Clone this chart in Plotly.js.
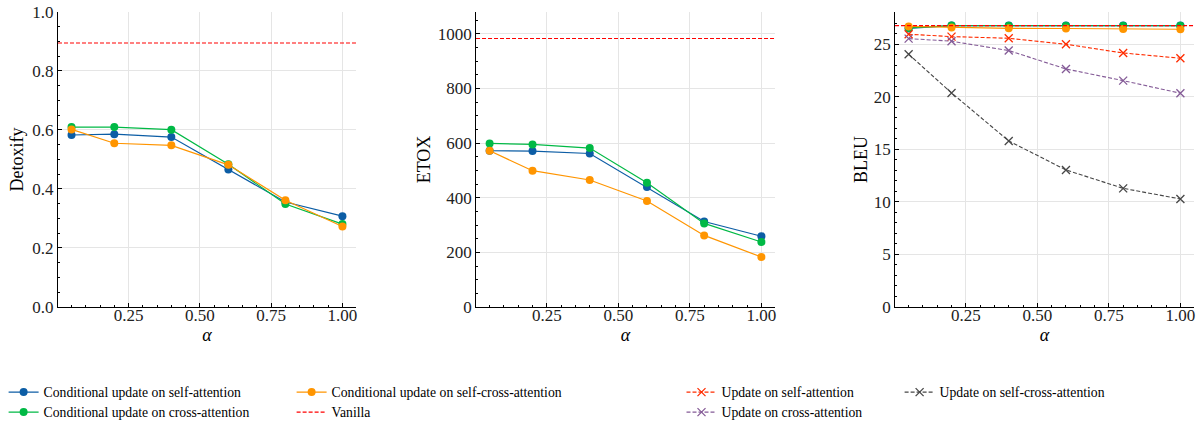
<!DOCTYPE html>
<html>
<head>
<meta charset="utf-8">
<script src="https://cdn.plot.ly/plotly-3.0.1.min.js"></script>
<style>html,body{margin:0;padding:0;background:#fff}#chart{width:1203px;height:421px}</style>
</head>
<body>
<div id="chart"></div>
<script>
// ---- data ----
const alpha = [0.05, 0.2, 0.4, 0.6, 0.8, 1.0];

const detoxCondSelf      = [0.583, 0.586, 0.576, 0.466, 0.356, 0.308];
const detoxCondCross     = [0.610, 0.610, 0.601, 0.484, 0.349, 0.281];
const detoxCondSelfCross = [0.602, 0.555, 0.548, 0.482, 0.362, 0.273];
const detoxVanilla = 0.895;

const etoxCondSelf      = [572, 571, 562, 439, 313, 259];
const etoxCondCross     = [599, 595, 582, 455, 306, 238];
const etoxCondSelfCross = [572, 499, 465, 388, 262, 183];
const etoxVanilla = 983;

const bleuCondSelf      = [26.50, 26.78, 26.78, 26.78, 26.78, 26.78];
const bleuCondCross     = [26.55, 26.78, 26.77, 26.76, 26.76, 26.76];
const bleuCondSelfCross = [26.70, 26.60, 26.52, 26.50, 26.46, 26.43];
const bleuUpdSelf       = [25.95, 25.73, 25.57, 25.00, 24.17, 23.67];
const bleuUpdCross      = [25.54, 25.29, 24.40, 22.65, 21.54, 20.34];
const bleuUpdSelfCross  = [24.05, 20.37, 15.80, 13.04, 11.29, 10.28];
const bleuVanilla = 26.77;

const xTickVals = [0.25, 0.5, 0.75, 1.0];
const xTickText = ["0.25", "0.50", "0.75", "1.00"];

const names = {
  condSelf: "Conditional update on self-attention",
  condCross: "Conditional update on cross-attention",
  condSelfCross: "Conditional update on self-cross-attention",
  vanilla: "Vanilla",
  updSelf: "Update on self-attention",
  updCross: "Update on cross-attention",
  updSelfCross: "Update on self-cross-attention"
};

// ---- styles ----
const C = {blue:"#0C5DA5", green:"#00B945", orange:"#FF9500", red:"#FF2C00", purple:"#845B97", dark:"#474747", vanilla:"#FF0000"};
const FONT = "Liberation Serif, Times New Roman, serif";

function cond(y, color, xa, ya, name, legend, show) {
  return {x: alpha, y: y, xaxis: xa, yaxis: ya, type: "scatter", mode: "lines+markers",
    name: name, legend: legend, showlegend: show,
    line: {color: color, width: 1.2}, marker: {color: color, size: 8, symbol: "circle"}};
}
function upd(y, color, xa, ya, name, legend) {
  return {x: alpha, y: y, xaxis: xa, yaxis: ya, type: "scatter", mode: "lines+markers",
    name: name, legend: legend, showlegend: true,
    line: {color: color, width: 1.1, dash: "4px,2px"},
    marker: {color: color, size: 8, symbol: "x-thin", line: {color: color, width: 1.3}}};
}

const traces = [
  cond(detoxCondSelf, C.blue, "x", "y", names.condSelf, "legend", true),
  cond(detoxCondCross, C.green, "x", "y", names.condCross, "legend2", true),
  cond(detoxCondSelfCross, C.orange, "x", "y", names.condSelfCross, "legend3", true),
  cond(etoxCondSelf, C.blue, "x2", "y2", names.condSelf, "legend", false),
  cond(etoxCondCross, C.green, "x2", "y2", names.condCross, "legend2", false),
  cond(etoxCondSelfCross, C.orange, "x2", "y2", names.condSelfCross, "legend3", false),
  cond(bleuCondSelf, C.blue, "x3", "y3", names.condSelf, "legend", false),
  cond(bleuCondCross, C.green, "x3", "y3", names.condCross, "legend2", false),
  cond(bleuCondSelfCross, C.orange, "x3", "y3", names.condSelfCross, "legend3", false),
  {x: [null], y: [null], type: "scatter", mode: "lines", name: names.vanilla, legend: "legend4",
    line: {color: C.vanilla, width: 1.1, dash: "4px,2px"}, showlegend: true, hoverinfo: "skip"},
  upd(bleuUpdSelf, C.red, "x3", "y3", names.updSelf, "legend5"),
  upd(bleuUpdCross, C.purple, "x3", "y3", names.updCross, "legend6"),
  upd(bleuUpdSelfCross, C.dark, "x3", "y3", names.updSelfCross, "legend7")
];

function hline(yval, xref, yref) {
  return {type: "line", xref: xref + " domain", yref: yref, x0: 0, x1: 1, y0: yval, y1: yval,
    line: {color: C.vanilla, width: 1.1, dash: "4px,2px"}, layer: "above"};
}

const tickFont = {family: FONT, size: 17, color: "#222"};
function xax(domain, anchor) {
  return {domain: domain, anchor: anchor, range: [0.0025, 1.0475], tickvals: xTickVals, ticktext: xTickText,
    ticks: "inside", ticklen: 4, tickcolor: "#000", showline: true, linecolor: "#000", linewidth: 1,
    showgrid: true, gridcolor: "#e5e5e5", gridwidth: 1, zeroline: false, tickfont: tickFont,
    ticklabelstandoff: -7, tickangle: 0,
    minor: {dtick: 0.05, tick0: 0, ticks: "inside", ticklen: 2, tickcolor: "#000", showgrid: false},
    title: {text: "<i>α</i>", font: {family: FONT, size: 18, color: "#000"}, standoff: 0}};
}
function yax(domain, anchor, range, dtick, minorDtick, fmt, title, standoff) {
  return {domain: domain, anchor: anchor, range: range, dtick: dtick, tick0: 0, tickformat: fmt,
    ticks: "inside", ticklen: 4, tickcolor: "#000", showline: true, linecolor: "#000", linewidth: 1,
    showgrid: true, gridcolor: "#e5e5e5", gridwidth: 1, zeroline: false, tickfont: tickFont,
    minor: {dtick: minorDtick, tick0: 0, ticks: "inside", ticklen: 2, tickcolor: "#000", showgrid: false},
    title: {text: title, font: {family: FONT, size: 18, color: "#000"}, standoff: standoff}};
}

const yd = [0.2708, 0.9715];
function leg(x, y) {
  return {orientation: "v", yanchor: "top", xanchor: "left",
    x: x, y: y, font: {family: FONT, size: 13.7, color: "#000"}, bgcolor: "rgba(0,0,0,0)",
    itemwidth: 30};
}
const row1 = 0.1052, row2 = 0.0577;

const layout = {
  width: 1203, height: 421, margin: {l: 0, r: 0, t: 0, b: 0, autoexpand: false},
  paper_bgcolor: "#fff", plot_bgcolor: "#fff", showlegend: true,
  xaxis: xax([0.0482, 0.2959], "y"),
  yaxis: yax(yd, "x", [0, 1], 0.2, 0.05, ".1f", "Detoxify", 4),
  xaxis2: xax([0.3957, 0.6442], "y2"),
  yaxis2: yax(yd, "x2", [0, 1080], 200, 50, "d", "ETOX", 2),
  xaxis3: xax([0.7440, 0.9925], "y3"),
  yaxis3: yax(yd, "x3", [0, 28.07], 5, 1, "d", "BLEU", 1),
  shapes: [hline(detoxVanilla, "x", "y"), hline(etoxVanilla, "x2", "y2"), hline(bleuVanilla, "x3", "y3")],
  legend:  leg(0.0030, row1),
  legend2: leg(0.0030, row2),
  legend3: leg(0.2424, row1),
  legend4: leg(0.2424, row2),
  legend5: leg(0.5665, row1),
  legend6: leg(0.5665, row2),
  legend7: leg(0.7478, row1)
};

Plotly.newPlot("chart", traces, layout, {displayModeBar: false, staticPlot: true});
</script>
</body>
</html>
